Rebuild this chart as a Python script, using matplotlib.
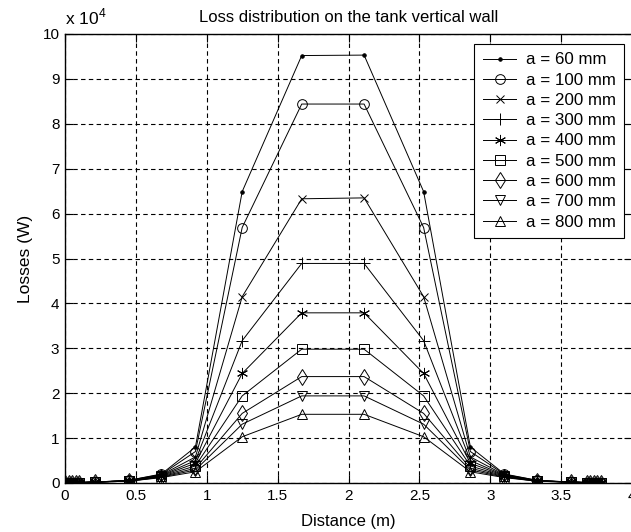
import numpy as np
import matplotlib
matplotlib.use("Agg")
import matplotlib.pyplot as plt

plt.rcParams['font.family'] = ['Liberation Sans', 'DejaVu Sans']
plt.rcParams['font.size'] = 11
plt.rcParams['mathtext.fontset'] = 'custom'
plt.rcParams['mathtext.rm'] = 'Liberation Sans'

# distance along the wall (m)
distance = [0.0, 0.025, 0.05, 0.075, 0.1, 0.21, 0.45, 0.68, 0.92, 1.25, 1.67,
            2.11, 2.53, 2.86, 3.1, 3.33, 3.57, 3.68, 3.705, 3.73, 3.755, 3.78]

# losses in units of 1e4 W
loss_60 = [0.01, 0.01, 0.01, 0.01, 0.01, 0.02, 0.06, 0.2, 0.8, 6.49, 9.52,
           9.53, 6.49, 0.8, 0.2, 0.06, 0.02, 0.01, 0.01, 0.01, 0.01, 0.01]
loss_100 = [0.01, 0.01, 0.01, 0.01, 0.01, 0.02, 0.06, 0.19, 0.7, 5.69, 8.44,
            8.44, 5.69, 0.7, 0.19, 0.06, 0.02, 0.01, 0.01, 0.01, 0.01, 0.01]
loss_200 = [0.01, 0.01, 0.01, 0.01, 0.01, 0.02, 0.05, 0.18, 0.58, 4.15, 6.33,
            6.35, 4.15, 0.58, 0.18, 0.05, 0.02, 0.01, 0.01, 0.01, 0.01, 0.01]
loss_300 = [0.01, 0.01, 0.01, 0.01, 0.01, 0.02, 0.05, 0.17, 0.5, 3.17, 4.89,
            4.89, 3.17, 0.5, 0.17, 0.05, 0.02, 0.01, 0.01, 0.01, 0.01, 0.01]
loss_400 = [0.01, 0.01, 0.01, 0.01, 0.01, 0.02, 0.05, 0.16, 0.44, 2.44, 3.79,
            3.79, 2.44, 0.44, 0.16, 0.05, 0.02, 0.01, 0.01, 0.01, 0.01, 0.01]
loss_500 = [0.01, 0.01, 0.01, 0.01, 0.01, 0.02, 0.05, 0.15, 0.38, 1.94, 2.98,
            2.98, 1.94, 0.38, 0.15, 0.05, 0.02, 0.01, 0.01, 0.01, 0.01, 0.01]
loss_600 = [0.01, 0.01, 0.01, 0.01, 0.01, 0.02, 0.04, 0.14, 0.33, 1.55, 2.37,
            2.37, 1.55, 0.33, 0.14, 0.04, 0.02, 0.01, 0.01, 0.01, 0.01, 0.01]
loss_700 = [0.01, 0.01, 0.01, 0.01, 0.01, 0.02, 0.04, 0.13, 0.29, 1.31, 1.94,
            1.94, 1.31, 0.29, 0.13, 0.04, 0.02, 0.01, 0.01, 0.01, 0.01, 0.01]
loss_800 = [0.01, 0.01, 0.01, 0.01, 0.01, 0.02, 0.04, 0.12, 0.25, 1.03, 1.53,
            1.53, 1.03, 0.25, 0.12, 0.04, 0.02, 0.01, 0.01, 0.01, 0.01, 0.01]

series = [loss_60, loss_100, loss_200, loss_300, loss_400,
          loss_500, loss_600, loss_700, loss_800]
labels = ['a = 60 mm', 'a = 100 mm', 'a = 200 mm', 'a = 300 mm', 'a = 400 mm',
          'a = 500 mm', 'a = 600 mm', 'a = 700 mm', 'a = 800 mm']
# matlab-like markers: dot, o, x, +, asterisk, square, diamond, triangles
markers = ['.', 'o', 'x', '+', (6, 2, 0), 's', 'd', 'v', '^']
sizes = [5, 7, 6, 8, 8, 7.5, 8, 7, 7]

fig = plt.figure(figsize=(6.31, 5.32), dpi=100)
ax = fig.add_axes([65/631, 49/532, 567/631, 449/532])

for y, lab, m, s in zip(series, labels, markers, sizes):
    ax.plot(distance, y, color='black', lw=0.7, marker=m, ms=s,
            mfc='black' if m == '.' else 'none', mec='black',
            mew=0.7, label=lab)

ax.set_xlim(0, 4)
ax.set_ylim(0, 10)
ax.set_xticks(np.arange(0, 4.01, 0.5))
ax.set_xticklabels(['0', '0.5', '1', '1.5', '2', '2.5', '3', '3.5', '4'])
ax.set_yticks(range(0, 11))
ax.tick_params(direction='in', top=True, right=True, length=6, pad=4,
               labelsize=11)
ax.grid(True, color='black', linestyle=(0, (4, 3)), lw=0.8)
for sp in ax.spines.values():
    sp.set_linewidth(1.0)

ax.set_title('Loss distribution on the tank vertical wall', fontsize=12, pad=9)
ax.set_xlabel('Distance (m)', fontsize=12, labelpad=8)
ax.set_ylabel('Losses (W)', fontsize=12.5, labelpad=7)
ax.text(0, 1.015, r'x 10$^{4}$', transform=ax.transAxes, ha='left',
        va='bottom', fontsize=12.5)

leg = ax.legend(loc='upper right', bbox_to_anchor=(0.9864, 0.9777),
                borderaxespad=0, fancybox=False, edgecolor='black',
                framealpha=1, fontsize=12.2, handlelength=2.0,
                handletextpad=0.55, labelspacing=0.31, borderpad=0.5)
leg.get_frame().set_linewidth(0.8)

fig.savefig('out.png', dpi=100)
